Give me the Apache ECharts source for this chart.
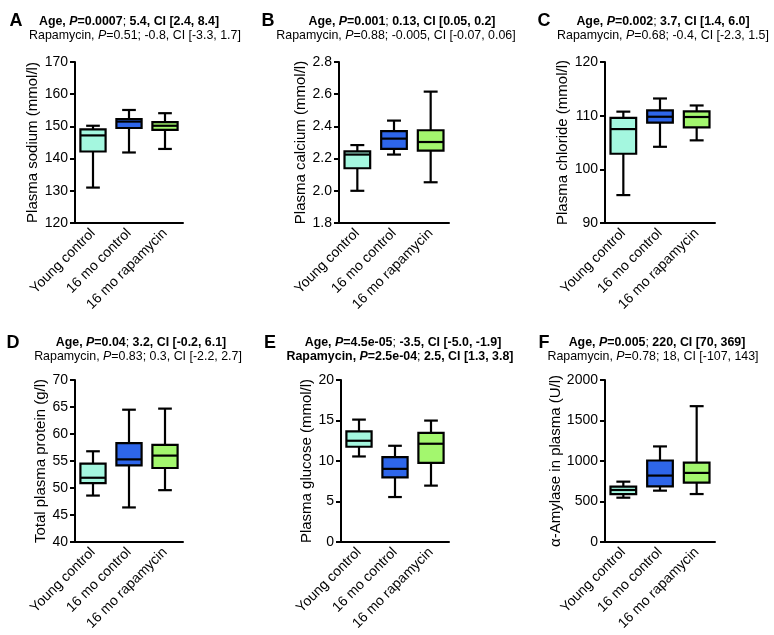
<!DOCTYPE html>
<html>
<head>
<meta charset="utf-8">
<script src="https://cdn.jsdelivr.net/npm/echarts@6/dist/echarts.min.js"></script>
<style>html,body{margin:0;padding:0;background:#fff;}#c{width:774px;height:635px;}</style>
</head>
<body>
<div id="c"></div>
<script>
// ---------- data ----------
const categories = ['Young control', '16 mo control', '16 mo rapamycin'];
// each row: [min, Q1, median, Q3, max]
const sodium   = [[131.0, 142.2, 147.2, 149.1, 150.2], [141.9, 149.5, 151.5, 152.3, 155.1], [143.0, 148.9, 150.2, 151.3, 154.1]];
const calcium  = [[2.00, 2.14, 2.225, 2.245, 2.284], [2.225, 2.26, 2.324, 2.371, 2.436], [2.053, 2.249, 2.303, 2.376, 2.616]];
const chloride = [[95.2, 102.9, 107.5, 109.6, 110.75], [104.2, 108.7, 109.8, 111.0, 113.2], [105.4, 107.8, 109.75, 110.8, 111.9]];
const protein  = [[48.6, 50.9, 51.9, 54.5, 56.8], [46.4, 54.2, 55.3, 58.3, 64.5], [49.6, 53.7, 56.0, 58.0, 64.7]];
const glucose  = [[10.56, 11.76, 12.5, 13.66, 15.11], [5.55, 7.99, 9.03, 10.48, 11.88], [6.96, 9.77, 12.13, 13.46, 14.99]];
const amylase  = [[547, 592, 642, 683, 745], [634, 687, 820, 1006, 1180], [592, 733, 853, 981, 1677]];

const yNames = ['Plasma sodium (mmol/l)', 'Plasma calcium (mmol/l)', 'Plasma chloride (mmol/l)',
                'Total plasma protein (g/l)', 'Plasma glucose (mmol/l)', '\u03b1-Amylase in plasma (U/l)'];
const yMin = [120, 1.8, 90, 40, 0, 0];
const yMax = [170, 2.8, 120, 70, 20, 2000];
const yInterval = [10, 0.2, 10, 5, 5, 500];
const yDecimals = [0, 1, 0, 0, 0, 0];

const panelLetters = ['A', 'B', 'C', 'D', 'E', 'F'];
const headerLine1 = [
  '{b|Age, }{bi|P}{b|=0.0007}{n|; }{b|5.4, CI [2.4, 8.4]}',
  '{b|Age, }{bi|P}{b|=0.001}{n|; }{b|0.13, CI [0.05, 0.2]}',
  '{b|Age, }{bi|P}{b|=0.002}{n|; }{b|3.7, CI [1.4, 6.0]}',
  '{b|Age, }{bi|P}{b|=0.04}{n|; }{b|3.2, CI [-0.2, 6.1]}',
  '{b|Age, }{bi|P}{b|=4.5e-05}{n|; }{b|-3.5, CI [-5.0, -1.9]}',
  '{b|Age, }{bi|P}{b|=0.005}{n|; }{b|220, CI [70, 369]}'
];
const headerLine2 = [
  '{n|Rapamycin, }{i|P}{n|=0.51; -0.8, CI [-3.3, 1.7]}',
  '{n|Rapamycin, }{i|P}{n|=0.88; -0.005, CI [-0.07, 0.06]}',
  '{n|Rapamycin, }{i|P}{n|=0.68; -0.4, CI [-2.3, 1.5]}',
  '{n|Rapamycin, }{i|P}{n|=0.83; 0.3, CI [-2.2, 2.7]}',
  '{b|Rapamycin, }{bi|P}{b|=2.5e-04}{n|; }{b|2.5, CI [1.3, 3.8]}',
  '{n|Rapamycin, }{i|P}{n|=0.78; 18, CI [-107, 143]}'
];
const panelData = [sodium, calcium, chloride, protein, glucose, amylase];

// ---------- styling / layout ----------
const boxColors = ['#a4f7df', '#2e66ea', '#a3f76e'];
const FONT = '"Liberation Sans", Arial, Helvetica, sans-serif';
const HF = 12.4;
const grids = [
  {left: 75,  top: 62,  width: 108, height: 161},
  {left: 339, top: 62,  width: 110, height: 161},
  {left: 605, top: 62,  width: 110, height: 161},
  {left: 75,  top: 380, width: 108, height: 162},
  {left: 341, top: 380, width: 108, height: 162},
  {left: 605, top: 380, width: 110, height: 162}
];
const nameGaps = [28, 29, 25, 27, 23, 35];
const letterPos = [[16, 21], [268, 21], [544, 21], [13, 343], [270, 343], [544, 343]];
const line1Pos = [[129, 22], [402, 22], [663, 22], [141, 343], [403, 343], [657, 343]];
const line2Pos = [[135, 36], [396, 36], [663, 36], [138, 357], [400, 357], [653, 357]];

const rich = {
  b:  {fontWeight: 'bold', fontSize: HF, fontFamily: FONT, fill: '#000', color: '#000'},
  bi: {fontWeight: 'bold', fontStyle: 'italic', fontSize: HF, fontFamily: FONT, fill: '#000', color: '#000'},
  n:  {fontSize: HF, fontFamily: FONT, fill: '#000', color: '#000'},
  i:  {fontStyle: 'italic', fontSize: HF, fontFamily: FONT, fill: '#000', color: '#000'}
};

function renderBox(params, api) {
  const idx = api.value(0);
  const pts = [1, 2, 3, 4, 5].map(i => api.coord([idx, api.value(i)]));
  const cx = pts[0][0];
  const band = api.size([1, 0])[0];
  const bw = band * 0.70, cw = band * 0.38;
  const yLo = pts[0][1], yQ1 = pts[1][1], yMed = pts[2][1], yQ3 = pts[3][1], yHi = pts[4][1];
  const ls = {stroke: '#000', lineWidth: 2.2};
  return {
    type: 'group',
    children: [
      {type: 'line', shape: {x1: cx, y1: yHi, x2: cx, y2: yQ3}, style: ls},
      {type: 'line', shape: {x1: cx, y1: yQ1, x2: cx, y2: yLo}, style: ls},
      {type: 'line', shape: {x1: cx - cw / 2, y1: yHi, x2: cx + cw / 2, y2: yHi}, style: ls},
      {type: 'line', shape: {x1: cx - cw / 2, y1: yLo, x2: cx + cw / 2, y2: yLo}, style: ls},
      {type: 'rect', shape: {x: cx - bw / 2, y: yQ3, width: bw, height: yQ1 - yQ3},
       style: {fill: boxColors[idx], stroke: '#000', lineWidth: 2.2}},
      {type: 'line', shape: {x1: cx - bw / 2, y1: yMed, x2: cx + bw / 2, y2: yMed}, style: ls}
    ]
  };
}

const option = {
  backgroundColor: '#fff',
  animation: false,
  grid: grids.map(g => Object.assign({containLabel: false}, g)),
  xAxis: grids.map((g, i) => ({
    type: 'category', gridIndex: i, data: categories, boundaryGap: true,
    axisLine: {lineStyle: {color: '#000', width: 2}},
    axisTick: {alignWithLabel: true, length: 6, lineStyle: {color: '#000', width: 2}},
    axisLabel: {rotate: 45, fontSize: 14, fontFamily: FONT, color: '#000', margin: 8, interval: 0},
    splitLine: {show: false}
  })),
  yAxis: grids.map((g, i) => ({
    type: 'value', gridIndex: i, min: yMin[i], max: yMax[i], interval: yInterval[i],
    name: yNames[i], nameLocation: 'middle', nameGap: nameGaps[i],
    nameTextStyle: {fontSize: 15, fontFamily: FONT, color: '#000'},
    axisLine: {show: true, lineStyle: {color: '#000', width: 2}},
    axisTick: {show: true, length: 5, lineStyle: {color: '#000', width: 2}},
    axisLabel: {fontSize: 14, fontFamily: FONT, color: '#000', margin: 7,
      formatter: v => Number(v).toFixed(yDecimals[i])},
    splitLine: {show: false}
  })),
  series: panelData.map((d, i) => ({
    type: 'custom', xAxisIndex: i, yAxisIndex: i,
    renderItem: renderBox,
    encode: {x: 0, y: [1, 2, 3, 4, 5]},
    data: d.map((row, k) => [k].concat(row))
  })),
  graphic: [].concat(
    panelLetters.map((L, i) => ({
      type: 'text', x: letterPos[i][0], y: letterPos[i][1],
      style: {text: L, fontSize: 18, fontWeight: 'bold', fontFamily: FONT, fill: '#000',
              align: 'center', textAlign: 'center', verticalAlign: 'middle', textVerticalAlign: 'middle'}
    })),
    headerLine1.map((t, i) => ({
      type: 'text', x: line1Pos[i][0], y: line1Pos[i][1],
      style: {text: t, rich: rich, fontSize: HF, fontFamily: FONT, fill: '#000',
              align: 'center', textAlign: 'center', verticalAlign: 'middle', textVerticalAlign: 'middle'}
    })),
    headerLine2.map((t, i) => ({
      type: 'text', x: line2Pos[i][0], y: line2Pos[i][1],
      style: {text: t, rich: rich, fontSize: HF, fontFamily: FONT, fill: '#000',
              align: 'center', textAlign: 'center', verticalAlign: 'middle', textVerticalAlign: 'middle'}
    }))
  )
};

const chart = echarts.init(document.getElementById('c'), null, {renderer: 'canvas'});
chart.setOption(option);
</script>
</body>
</html>
